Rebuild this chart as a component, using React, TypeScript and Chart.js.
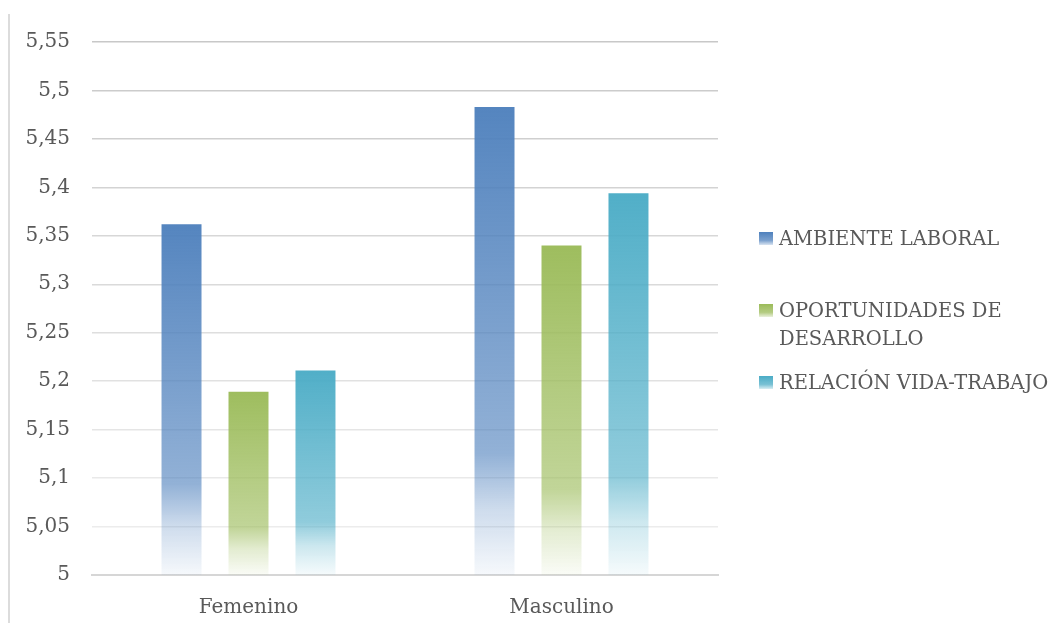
import React, { useEffect, useRef } from "react";
import { Chart, registerables } from "chart.js";

Chart.register(...registerables);

// Groups on the category axis
const categories = ["Femenino", "Masculino"];

// Average score per dimension, one value per group
const ambienteLaboral = [5.362, 5.483];
const oportunidadesDesarrollo = [5.189, 5.34];
const relacionVidaTrabajo = [5.211, 5.394];

const seriesNames = ["AMBIENTE LABORAL", "OPORTUNIDADES DE DESARROLLO", "RELACIÓN VIDA-TRABAJO"];
const seriesColors = ["79,129,189", "155,187,89", "75,172,198"];

// Value axis range and tick step
const yMin = 5;
const yMax = 5.55;
const yStep = 0.05;

const FONT = "'DejaVu Serif', serif";
const TEXT = "#595959";

// Vertical fade: strong at the top of each bar, washing out towards the base
function barFill(rgb: string) {
  return (ctx: any) => {
    const chart = ctx.chart;
    const area = chart.chartArea;
    const y = chart.scales?.y;
    if (!area || !y || ctx.raw == null) return `rgba(${rgb},0.9)`;
    const top = y.getPixelForValue(ctx.raw);
    const bottom = y.getPixelForValue(yMin);
    const g = chart.ctx.createLinearGradient(0, top, 0, bottom);
    g.addColorStop(0, `rgba(${rgb},0.97)`);
    g.addColorStop(0.74, `rgba(${rgb},0.62)`);
    g.addColorStop(0.86, `rgba(${rgb},0.28)`);
    g.addColorStop(1, `rgba(${rgb},0.05)`);
    return g;
  };
}

function wrapText(c: CanvasRenderingContext2D, text: string, maxWidth: number) {
  const words = text.split(" ");
  const lines: string[] = [];
  let line = "";
  for (const w of words) {
    const test = line ? line + " " + w : w;
    if (c.measureText(test).width > maxWidth && line) {
      lines.push(line);
      line = w;
    } else {
      line = test;
    }
  }
  if (line) lines.push(line);
  return lines;
}

// Legend on the right with wrapped labels and faded swatches
const sideLegend = {
  id: "sideLegend",
  afterDraw(chart: any) {
    const c: CanvasRenderingContext2D = chart.ctx;
    const x = chart.chartArea.right + 41;
    const centers = [231, 303, 375];
    const lineH = 28;
    c.save();
    c.font = `19.5px ${FONT}`;
    c.textBaseline = "middle";
    c.textAlign = "left";
    chart.data.datasets.forEach((ds: any, i: number) => {
      const cy = centers[i];
      const rgb = seriesColors[i];
      const g = c.createLinearGradient(0, cy - 7, 0, cy + 7);
      g.addColorStop(0, `rgba(${rgb},1)`);
      g.addColorStop(0.6, `rgba(${rgb},0.75)`);
      g.addColorStop(1, `rgba(${rgb},0.1)`);
      c.fillStyle = g;
      c.fillRect(x, cy - 7, 14, 13);
      c.fillStyle = TEXT;
      const lines = wrapText(c, ds.label, 290);
      lines.forEach((l, k) => c.fillText(l, x + 20, cy + k * lineH + 1));
    });
    c.restore();
  },
};

function gridShade(ctx: any) {
  const n = Math.round((yMax - yMin) / yStep);
  const t = (ctx.index ?? 0) / n; // 0 at base, 1 at top
  const v = Math.round(240 - t * 40);
  return `rgb(${v},${v},${v})`;
}

export default function App() {
  const ref = useRef<HTMLCanvasElement>(null);

  useEffect(() => {
    if (!ref.current) return;
    const data = [ambienteLaboral, oportunidadesDesarrollo, relacionVidaTrabajo];
    const chart = new Chart(ref.current, {
      type: "bar",
      data: {
        labels: categories,
        datasets: data.map((d, i) => ({
          label: seriesNames[i],
          data: d,
          backgroundColor: barFill(seriesColors[i]),
          borderWidth: 0,
          barPercentage: 0.597,
          categoryPercentage: 0.642,
        })),
      },
      options: {
        responsive: false,
        animation: false,
        devicePixelRatio: 1,
        layout: { padding: { left: 0, right: 338, top: 34, bottom: 0 } },
        plugins: {
          legend: { display: false },
          tooltip: { enabled: false },
        },
        scales: {
          y: {
            min: yMin,
            max: yMax,
            ticks: {
              stepSize: yStep,
              padding: 22,
              color: TEXT,
              font: { family: FONT, size: 20 },
              callback: (v: any) => String(Math.round(Number(v) * 100) / 100).replace(".", ","),
            },
            grid: { drawTicks: false, color: gridShade, lineWidth: 1.5 },
            border: { display: false },
            afterFit: (s: any) => {
              s.width = 84;
            },
          },
          x: {
            grid: { display: false, drawTicks: false },
            border: { display: true, color: "#d6d6d6", width: 2 },
            ticks: {
              padding: 21,
              color: TEXT,
              font: { family: FONT, size: 20 },
            },
            afterFit: (s: any) => {
              s.height = 48;
            },
          },
        },
      },
      plugins: [sideLegend],
    });
    return () => chart.destroy();
  }, []);

  return (
    <div style={{ position: "relative", width: 1048, height: 615 }}>
      <canvas ref={ref} width={1048} height={615} style={{ display: "block" }} />
      <div
        style={{
          position: "absolute",
          left: 0,
          top: 6,
          bottom: -8,
          width: 2,
          background: "#dcdcdc",
        }}
      />
    </div>
  );
}
